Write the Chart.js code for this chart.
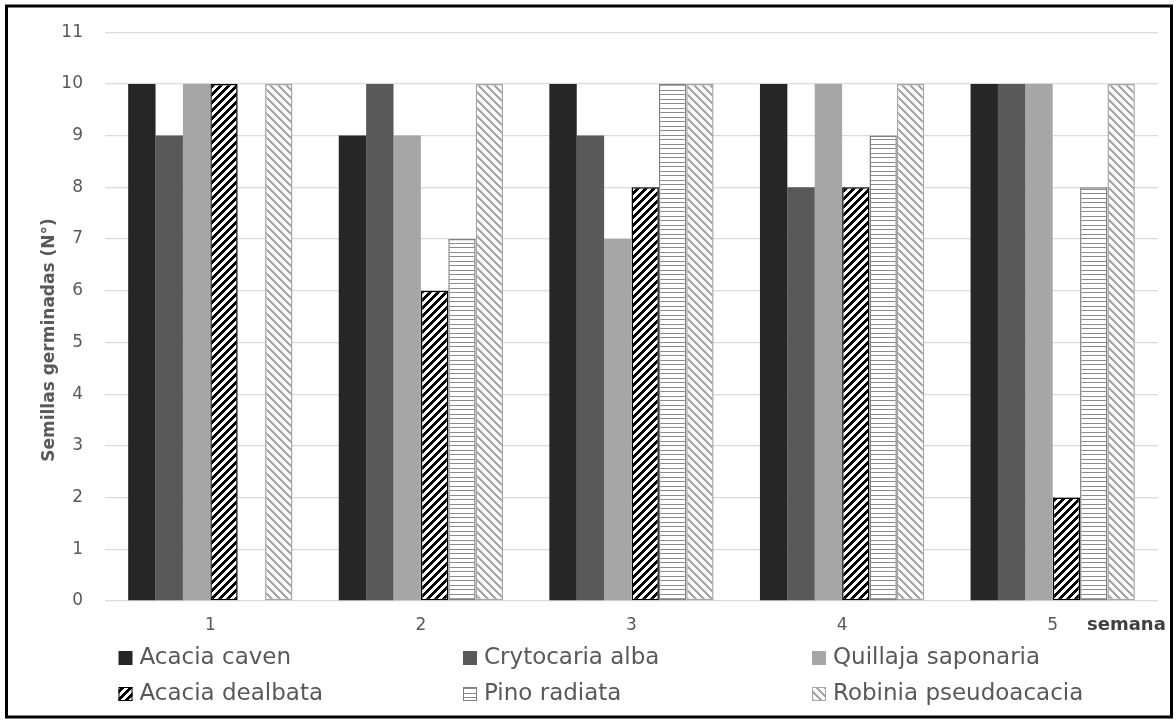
<!DOCTYPE html>
<html>
<head>
<meta charset="utf-8">
<script src="https://cdn.jsdelivr.net/npm/chart.js@4.4.1/dist/chart.umd.min.js"></script>
<style>
  html, body { margin: 0; padding: 0; background: #ffffff; }
  #wrap { position: relative; width: 1176px; height: 721px; }
</style>
</head>
<body>
<div id="wrap"><canvas id="germ" width="1176" height="721"></canvas></div>
<script>
// Germinated seeds per species, by week
const weeks = ['1', '2', '3', '4', '5'];
const speciesNames = ['Acacia caven', 'Crytocaria alba', 'Quillaja saponaria',
                      'Acacia dealbata', 'Pino radiata', 'Robinia pseudoacacia'];
const acaciaCaven         = [10, 9, 10, 10, 10];
const crytocariaAlba      = [9, 10, 9, 8, 10];
const quillajaSaponaria   = [10, 9, 7, 10, 10];
const acaciaDealbata      = [10, 6, 8, 8, 2];
const pinoRadiata         = [0, 7, 10, 9, 8];
const robiniaPseudoacacia = [10, 10, 10, 10, 10];
const yMin = 0, yMax = 11, yStep = 1;
const xAxisTitle = 'semana';
const yAxisTitle = 'Semillas germinadas (N°)';

const FONT = '"DejaVu Sans", "Noto Sans", sans-serif';
const TEXT = '#595959';

const canvas = document.getElementById('germ');
const ctx = canvas.getContext('2d');

// Build a small repeating hatch tile
function hatch(w, h, ink, test) {
  const t = document.createElement('canvas');
  t.width = w; t.height = h;
  const g = t.getContext('2d');
  g.fillStyle = '#ffffff';
  g.fillRect(0, 0, w, h);
  g.fillStyle = ink;
  for (let y = 0; y < h; y++) {
    for (let x = 0; x < w; x++) {
      if (test(x, y)) g.fillRect(x, y, 1, 1);
    }
  }
  return ctx.createPattern(t, 'repeat');
}

const upDiagBlack  = hatch(8, 8, '#000000', (x, y) => ((x + y) % 8) < 4);
const horizGray    = hatch(4, 9, '#8c8c8c', (x, y) => y === 0 || y === 4);
const downDiagGray = hatch(8, 8, '#a6a6a6', (x, y) => ((x - y + 16) % 8) < 3);

const seriesValues = [acaciaCaven, crytocariaAlba, quillajaSaponaria,
                      acaciaDealbata, pinoRadiata, robiniaPseudoacacia];
const fills   = ['#262626', '#595959', '#a6a6a6', upDiagBlack, horizGray, downDiagGray];
const borders = ['#262626', '#595959', '#a6a6a6', '#000000', '#808080', '#a6a6a6'];
const bWidths = [0, 0, 0, 1.5, 1.5, 1.5];

const datasets = speciesNames.map((name, i) => ({
  label: name,
  data: seriesValues[i],
  backgroundColor: fills[i],
  borderColor: borders[i],
  borderWidth: bWidths[i],
  borderSkipped: false,
  categoryPercentage: 0.78,
  barPercentage: 1.0
}));

// Legend in two rows of three, axis names and the outer frame
const decor = {
  id: 'decor',
  afterDraw(chart) {
    const c = chart.ctx;
    const cols = [118.5, 463, 812];
    const rows = [658, 694];
    c.save();
    c.font = '23px ' + FONT;
    c.textBaseline = 'middle';
    c.textAlign = 'left';
    chart.data.datasets.forEach((ds, i) => {
      const x = cols[i % 3];
      const y = rows[Math.floor(i / 3)];
      c.fillStyle = ds.backgroundColor;
      c.fillRect(x, y - 7, 14, 14);
      if (ds.borderWidth > 0) {
        c.strokeStyle = ds.borderColor;
        c.lineWidth = 1;
        c.strokeRect(x + 0.5, y - 6.5, 13, 13);
      }
      c.fillStyle = TEXT;
      c.fillText(ds.label, x + 21, y);
    });

    // category axis name, on the tick label line
    c.font = 'bold 18px ' + FONT;
    c.fillStyle = '#404040';
    c.fillText(xAxisTitle, 1087, 625);

    // value axis name, rotated
    c.save();
    c.translate(50, 340);
    c.rotate(-Math.PI / 2);
    c.textAlign = 'center';
    c.font = 'bold 17px ' + FONT;
    c.fillStyle = TEXT;
    c.fillText(yAxisTitle, 0, 0);
    c.restore();

    c.strokeStyle = '#000000';
    c.lineWidth = 3;
    c.strokeRect(6.5, 6, 1165, 711);
    c.restore();
  }
};

new Chart(canvas, {
  type: 'bar',
  data: { labels: weeks, datasets },
  plugins: [decor],
  options: {
    responsive: false,
    animation: false,
    devicePixelRatio: 1,
    layout: { padding: { left: 0, right: 18, top: 32, bottom: 0 } },
    plugins: { legend: { display: false }, tooltip: { enabled: false } },
    scales: {
      x: {
        grid: { display: false, drawTicks: false },
        border: { display: false },
        ticks: { color: TEXT, font: { family: FONT, size: 17 }, padding: 14 },
        afterFit(s) { s.height = 120; }
      },
      y: {
        min: yMin,
        max: yMax,
        ticks: { stepSize: yStep, color: TEXT, font: { family: FONT, size: 17 }, padding: 22 },
        grid: { color: '#dadada', lineWidth: 1.3, drawTicks: false },
        border: { display: false },
        afterFit(s) { s.width = 105; }
      }
    }
  }
});
</script>
</body>
</html>
